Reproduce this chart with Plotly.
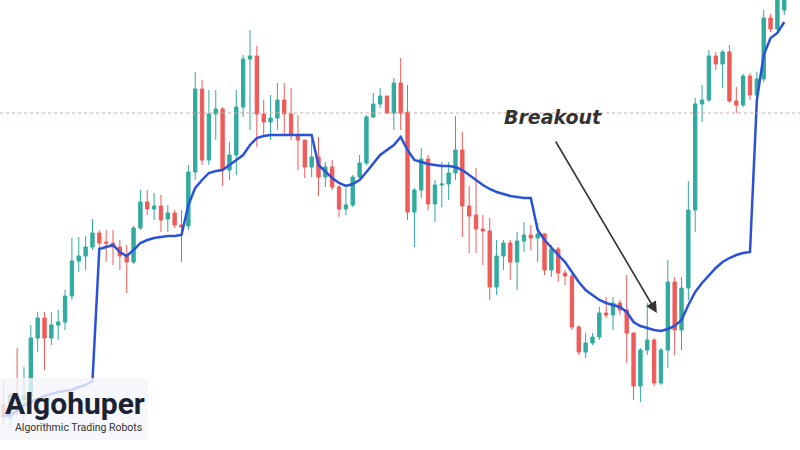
import numpy as np
import plotly.graph_objects as go

# candle values (screen-y units, 0 = top of chart)
open_px = [405, 418, 396, 400, 397, 338, 318, 338, 325, 322, 296, 261, 256, 247, 233, 242, 243, 247, 255, 262,
           228, 202, 209, 206, 219, 213, 225, 226, 172, 89, 160, 114, 109, 170, 155, 107, 59, 56, 114, 122,
           118, 100, 114, 135, 140, 167, 157, 177, 167, 187, 209, 205, 177, 163, 117, 104, 96, 113, 83, 112,
           212, 190, 159, 204, 185, 184, 173, 150, 206, 215, 229, 231, 287, 256, 243, 262, 241, 235, 238, 234,
           270, 249, 273, 276, 327, 352, 343, 337, 313, 315, 303, 310, 333, 386, 350, 340, 383, 350, 282, 330,
           288, 210, 104, 100, 56, 64, 52, 101, 105, 76, 95, 79, 18, 29, 10]
close_px = [417, 395, 405, 395, 338, 318, 338, 325, 322, 296, 261, 256, 247, 233, 243, 243, 247, 256, 262, 228,
            202, 209, 206, 220, 213, 225, 227, 172, 89, 160, 114, 109, 170, 155, 107, 59, 56, 114, 122, 118,
            100, 114, 135, 140, 167, 157, 177, 167, 187, 209, 205, 177, 163, 117, 104, 96, 113, 83, 113, 212,
            190, 159, 204, 185, 184, 173, 150, 206, 216, 229, 231, 287, 256, 243, 262, 241, 235, 238, 234, 270,
            249, 273, 276, 327, 352, 343, 337, 313, 315, 303, 310, 333, 386, 350, 340, 383, 350, 282, 330, 288,
            210, 104, 100, 56, 64, 52, 101, 105, 76, 95, 79, 18, 29, -10, -15]
high_px = [380, 390, 348, 367, 325, 312, 312, 312, 310, 290, 238, 237, 236, 219, 230, 230, 230, 240, 245, 226,
           190, 190, 193, 195, 205, 210, 210, 165, 72, 80, 90, 90, 107, 142, 90, 55, 30, 46, 100, 95,
           83, 83, 88, 115, 140, 140, 137, 162, 160, 185, 188, 175, 155, 115, 93, 88, 96, 78, 58, 85,
           188, 148, 155, 180, 162, 162, 116, 132, 186, 168, 215, 218, 240, 240, 240, 232, 222, 225, 223, 233,
           245, 247, 270, 274, 325, 333, 333, 307, 297, 297, 300, 275, 333, 348, 303, 338, 348, 260, 277, 277,
           181, 98, 85, 50, 52, 50, 45, 87, 74, 73, 72, 10, 14, -20, -25]
low_px = [425, 425, 415, 420, 400, 352, 370, 345, 340, 330, 300, 272, 270, 250, 260, 262, 265, 270, 293, 264,
          230, 215, 220, 232, 232, 228, 262, 230, 180, 165, 165, 140, 186, 180, 175, 117, 130, 147, 135, 140,
          130, 135, 140, 170, 178, 177, 196, 187, 190, 217, 215, 207, 178, 165, 118, 108, 114, 130, 130, 220,
          247, 198, 210, 222, 207, 200, 180, 237, 253, 253, 265, 300, 295, 270, 280, 290, 252, 250, 262, 275,
          277, 282, 285, 330, 355, 358, 345, 340, 318, 330, 315, 363, 400, 402, 355, 386, 385, 368, 355, 350,
          300, 232, 122, 102, 70, 88, 103, 113, 107, 100, 100, 82, 32, 32, 15]
line_px = [416, 415, 411, 405, 402, 399, 396, 394, 392, 391, 390, 387, 385, 381, 249, 247, 245, 252, 256, 250,
           243, 240, 238, 237, 236, 236, 235, 205, 188, 180, 173, 171, 170, 165, 160, 155, 145, 138, 136, 135,
           135, 135, 135, 135, 135, 135, 165, 172, 178, 183, 186, 184, 180, 172, 163, 155, 150, 145, 137, 150,
           160, 162, 164, 165, 166, 166, 167, 170, 175, 180, 185, 189, 192, 194, 196, 197, 198, 198, 230, 240,
           248, 255, 262, 272, 282, 290, 295, 300, 303, 305, 307, 312, 322, 326, 328, 330, 331, 329, 326, 320,
           305, 292, 283, 275, 268, 262, 258, 255, 253, 252, 100, 55, 38, 33, 22]
level_px = 337  # dotted resistance level (price units)

H = 450
opens = H - np.array(open_px)
closes = H - np.array(close_px)
highs = H - np.array(high_px)
lows = H - np.array(low_px)
line = H - np.array(line_px)
x = np.arange(len(opens))

fig = go.Figure()
fig.add_trace(go.Candlestick(
    x=x, open=opens, high=highs, low=lows, close=closes,
    increasing=dict(line=dict(color="#26a69a", width=1), fillcolor="#26a69a"),
    decreasing=dict(line=dict(color="#ef5350", width=1), fillcolor="#ef5350"),
    whiskerwidth=0, opacity=0.95, showlegend=False
))
fig.add_trace(go.Scatter(x=x, y=line, mode="lines",
                         line=dict(color="#2a52d9", width=2.5), showlegend=False, hoverinfo="skip"))

fig.add_hline(y=level_px, line=dict(color="#c9a8a8", width=1, dash="dot"))

fig.add_annotation(x=95.4, y=H - 313, xref="x", yref="y", ax=80.5, ay=H - 140, axref="x", ayref="y",
                   showarrow=True, arrowhead=2, arrowsize=1.4, arrowwidth=1.6, arrowcolor="#333",
                   text="")
fig.add_annotation(x=553 / 800, y=1 - 117 / 450, xref="paper", yref="paper", text="<b><i>Breakout</i></b>",
                   xanchor="center", yanchor="middle",
                   showarrow=False, font=dict(family="DejaVu Sans", size=19, color="#333"))

# watermark logo
fig.add_shape(type="rect", xref="paper", yref="paper", x0=0, x1=148 / 800, y0=1 - 440 / 450, y1=1 - 378 / 450,
              fillcolor="rgba(242,245,250,0.8)", line=dict(width=0), layer="above")
fig.add_annotation(x=75 / 800, y=1 - 403 / 450, xref="paper", yref="paper", text="<b>Algohuper</b>",
                   xanchor="center", yanchor="middle",
                   showarrow=False, font=dict(family="Roboto", size=30, color="#1b2233"))
fig.add_annotation(x=78 / 800, y=1 - 427 / 450, xref="paper", yref="paper", text="Algorithmic Trading Robots",
                   xanchor="center", yanchor="middle",
                   showarrow=False, font=dict(family="Roboto", size=10.5, color="#333"))

fig.update_xaxes(visible=False, range=[-0.5, 116.3], rangeslider_visible=False)
fig.update_yaxes(visible=False, range=[0, H])
fig.update_layout(width=800, height=450, margin=dict(l=0, r=0, t=0, b=0),
                  plot_bgcolor="white", paper_bgcolor="white")

fig.write_html("out.html", config={"displayModeBar": False},
               post_script="document.body.style.margin='0px';document.body.style.overflow='hidden';")
